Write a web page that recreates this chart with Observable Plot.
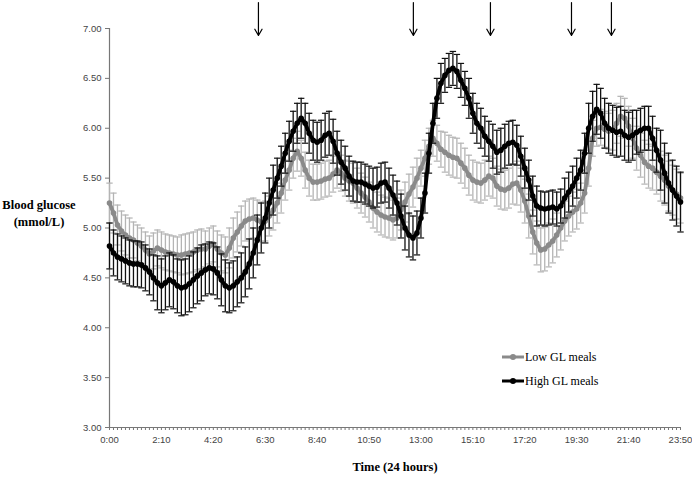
<!DOCTYPE html>
<html><head><meta charset="utf-8">
<script src="https://cdn.jsdelivr.net/npm/d3@7"></script>
<script src="https://cdn.jsdelivr.net/npm/@observablehq/plot@0.6"></script>
<style>
body{margin:0;background:#fff;}
#wrap{position:relative;width:692px;height:478px;overflow:hidden;}
.ttl{position:absolute;font-family:"Liberation Serif","Times New Roman",serif;font-weight:bold;font-size:12.5px;color:#000;text-align:center;}
.leg{position:absolute;left:502px;top:345px;font-family:"Liberation Serif","Times New Roman",serif;font-size:12px;color:#000;}
.leg div{display:flex;align-items:center;height:24px;}
.leg svg{margin-right:1px;}
</style></head><body><div id="wrap"></div>
<script>
// Time categories: every 10 minutes from 0:00 to 23:50
const stepMinutes = 10;
const xTickLabels = ["0:00","2:10","4:20","6:30","8:40","10:50","13:00","15:10","17:20","19:30","21:40","23:50"];
const yTicks = [3.0,3.5,4.0,4.5,5.0,5.5,6.0,6.5,7.0];

// Mean blood glucose (mmol/L), one value per 10 minutes
const lowGL = [
 5.25,5.15,5.03,4.97,4.93,4.90, 4.88,4.85,4.82,4.78,4.74,4.77,
 4.80,4.78,4.76,4.75,4.74,4.73, 4.73,4.74,4.75,4.76,4.78,4.79,
 4.79,4.82,4.84,4.79,4.75,4.73, 4.80,4.90,4.96,5.02,5.07,5.09,
 5.10,5.08,5.06,5.07,5.12,5.18, 5.25,5.35,5.48,5.58,5.70,5.77,
 5.70,5.58,5.50,5.46,5.46,5.47, 5.49,5.50,5.54,5.58,5.55,5.50,
 5.47,5.45,5.40,5.35,5.31,5.26, 5.20,5.16,5.13,5.11,5.10,5.08,
 5.10,5.18,5.26,5.34,5.41,5.50, 5.60,5.70,5.82,5.90,5.85,5.79,
 5.76,5.73,5.71,5.70,5.65,5.60, 5.53,5.48,5.46,5.45,5.48,5.52,
 5.50,5.42,5.39,5.38,5.40,5.44, 5.45,5.38,5.27,5.12,4.96,4.85,
 4.78,4.79,4.83,4.87,4.93,5.00, 5.07,5.12,5.16,5.19,5.25,5.35,
 5.60,5.90,6.00,6.01,5.99,5.97, 5.98,6.05,6.12,6.10,6.02,5.90,
 5.80,5.73,5.66,5.62,5.60,5.56, 5.52,5.48,5.42,5.38,5.34,5.30
];
const highGL = [
 4.82,4.75,4.71,4.69,4.67,4.65, 4.64,4.64,4.63,4.60,4.56,4.50,
 4.45,4.42,4.45,4.48,4.46,4.42, 4.40,4.41,4.44,4.48,4.52,4.55,
 4.58,4.60,4.59,4.55,4.48,4.42, 4.40,4.42,4.46,4.50,4.56,4.64,
 4.75,4.88,5.00,5.10,5.25,5.38, 5.50,5.62,5.75,5.87,5.97,6.05,
 6.10,6.05,5.95,5.88,5.86,5.88, 5.93,5.95,5.87,5.75,5.66,5.60,
 5.52,5.47,5.46,5.46,5.44,5.42, 5.40,5.41,5.45,5.46,5.40,5.33,
 5.25,5.12,5.00,4.93,4.90,4.95, 5.10,5.35,5.75,6.05,6.30,6.45,
 6.53,6.58,6.60,6.57,6.48,6.40, 6.30,6.15,6.05,6.00,5.92,5.87,
 5.82,5.76,5.78,5.82,5.85,5.86, 5.83,5.72,5.60,5.48,5.32,5.22,
 5.20,5.19,5.20,5.21,5.19,5.22, 5.30,5.36,5.42,5.50,5.58,5.75,
 6.00,6.12,6.19,6.15,6.05,6.00, 5.98,5.96,5.97,5.93,5.91,5.93,
 5.96,5.98,6.00,6.00,5.90,5.78, 5.68,5.55,5.45,5.38,5.32,5.26
];
// Error-bar half-widths (SE), one per hour of the day
const lowSE  = [0.20,0.18,0.18,0.20,0.18,0.20,0.20,0.20,0.18,0.18,0.20,0.20,0.20,0.18,0.20,0.20,0.20,0.22,0.22,0.20,0.18,0.20,0.22,0.25];
const highSE = [0.23,0.23,0.27,0.28,0.26,0.25,0.25,0.20,0.20,0.22,0.20,0.20,0.22,0.20,0.17,0.20,0.22,0.20,0.17,0.20,0.25,0.25,0.22,0.30];
// Meal times (minutes after midnight), shown by arrows
const mealTimes = [373, 761, 954, 1157, 1257];

const toMin = s => { const [h, m] = s.split(":").map(Number); return h * 60 + m; };
const fmt = m => `${Math.floor(m / 60)}:${String(m % 60).padStart(2, "0")}`;
const build = (vals, se) => vals.map((v, i) => ({t: i * stepMinutes, v, se: se[Math.floor(i * stepMinutes / 60)]}));
const lowRows = build(lowGL, lowSE);
const highRows = build(highGL, highSE);
const allTimes = lowRows.map(d => d.t);
const capHalf = 8;

function seriesMarks(rows, barColor, lineColor, lineW, r) {
  return [
    Plot.ruleX(rows, {x: "t", y1: d => d.v - d.se, y2: d => d.v + d.se, stroke: barColor, strokeWidth: 1.3}),
    Plot.link(rows, {x1: d => d.t - capHalf, x2: d => d.t + capHalf, y1: d => d.v + d.se, y2: d => d.v + d.se, stroke: barColor, strokeWidth: 1.2}),
    Plot.link(rows, {x1: d => d.t - capHalf, x2: d => d.t + capHalf, y1: d => d.v - d.se, y2: d => d.v - d.se, stroke: barColor, strokeWidth: 1.2}),
    Plot.line(rows, {x: "t", y: "v", stroke: lineColor, strokeWidth: lineW}),
    Plot.dot(rows, {x: "t", y: "v", r, fill: lineColor, stroke: "none"})
  ];
}

const chart = Plot.plot({
  width: 692, height: 478,
  marginLeft: 109, marginRight: 12, marginTop: 28, marginBottom: 51,
  x: {domain: [0, toMin(xTickLabels[xTickLabels.length - 1])]},
  y: {domain: [yTicks[0], yTicks[yTicks.length - 1]]},
  style: {fontFamily: "'Liberation Sans', Arial, sans-serif", fontSize: "9.5px", color: "#444", background: "#fff", overflow: "visible"},
  marks: [
    Plot.axisY({ticks: yTicks, tickFormat: d => d.toFixed(2), tickSize: 4, tickPadding: 4, label: null, stroke: "#777"}),
    Plot.axisX({ticks: allTimes, tickFormat: () => "", tickSize: 3, label: null, stroke: "#777"}),
    Plot.axisX({ticks: xTickLabels.map(toMin), tickFormat: fmt, tickSize: 0, tickPadding: 9, label: null}),
    Plot.ruleX([0], {stroke: "#777", strokeWidth: 1.2}),
    Plot.ruleY([yTicks[0]], {stroke: "#777", strokeWidth: 1.2}),
    ...seriesMarks(lowRows, "#b4b4b4", "#8a8a8a", 3.8, 2.8),
    ...seriesMarks(highRows, "#111", "#000", 3.8, 2.8),
    Plot.arrow(mealTimes, {x1: d => d, x2: d => d, y1: 7.26, y2: 6.93, stroke: "#000", strokeWidth: 1.2, headLength: 9})
  ]
});

const wrap = document.getElementById("wrap");
wrap.appendChild(chart);

const yt = document.createElement("div");
yt.className = "ttl";
yt.style.left = "0px"; yt.style.top = "197px"; yt.style.width = "78px"; yt.style.lineHeight = "17px";
yt.innerHTML = "Blood glucose<br>(mmol/L)";
wrap.appendChild(yt);

const xt = document.createElement("div");
xt.className = "ttl";
xt.style.left = "295px"; xt.style.top = "460px"; xt.style.width = "200px";
xt.textContent = "Time (24 hours)";
wrap.appendChild(xt);

const legendItems = [{label: "Low GL meals", color: "#8a8a8a"}, {label: "High GL meals", color: "#000"}];
const leg = document.createElement("div");
leg.className = "leg";
legendItems.forEach(it => {
  const row = document.createElement("div");
  row.innerHTML = `<svg width="22" height="10"><line x1="0" y1="5" x2="22" y2="5" stroke="${it.color}" stroke-width="3"/><circle cx="11" cy="5" r="3" fill="${it.color}"/></svg><span>${it.label}</span>`;
  leg.appendChild(row);
});
wrap.appendChild(leg);
</script>
</body></html>
